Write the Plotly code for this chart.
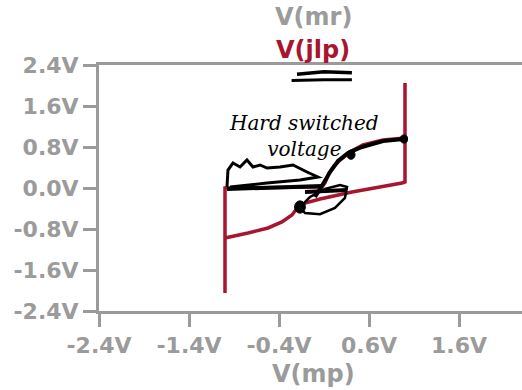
import plotly.graph_objects as go

# ---- data ----
# upper branch: flat near 0 V then rising
upper_x = [-1.0, -1.0, 0.078, 0.111, 0.156, 0.211, 0.278, 0.389, 0.533, 0.756, 1.0]
upper_y = [-2.05, 0.0, 0.02, 0.098, 0.293, 0.429, 0.546, 0.702, 0.839, 0.937, 0.976]
# right vertical jump
right_x = [1.0, 1.0]
right_y = [2.05, 0.117]
# lower branch (from right to left)
lower_x = [1.0, 0.967, 0.722, 0.411, 0.056, -0.111, -0.189, -0.256, -0.367, -0.522, -0.744, -1.0]
lower_y = [0.117, 0.098, 0.02, -0.078, -0.215, -0.293, -0.371, -0.527, -0.663, -0.780, -0.878, -0.976]

x_ticks = [-2.4, -1.4, -0.4, 0.6, 1.6]
x_tick_text = ["-2.4V", "-1.4V", "-0.4V", "0.6V", "1.6V"]
y_ticks = [-2.4, -1.6, -0.8, 0.0, 0.8, 1.6, 2.4]
y_tick_text = ["-2.4V", "-1.6V", "-0.8V", "0.0V", "0.8V", "1.6V", "2.4V"]

x_title = "V(mp)"
y_title_1 = "V(mr)"
y_title_2 = "V(jlp)"
note_text = "Hard switched<br>voltage"

GRAY = "#9b9b9b"
RED = "#a8152f"
INK = "#000000"

px = upper_x + right_x + lower_x
py = upper_y + right_y + lower_y

fig = go.Figure()
fig.add_trace(go.Scatter(x=px, y=py, mode="lines",
                         line=dict(color=RED, width=3.5),
                         hoverinfo="skip", showlegend=False))

# ---- hand-drawn ink annotations (decoration) ----
def path(pts, close=False):
    s = "M " + " L ".join(f"{a},{b}" for a, b in pts)
    return s + (" Z" if close else "")

ink = dict(color=INK, width=3)
shapes = []
# double underline under the title
shapes.append(dict(type="path", xref="x", yref="y",
                   path=path([(-0.2, 2.22), (0.1, 2.27), (0.41, 2.25)]), line=dict(color=INK, width=3.5)))
shapes.append(dict(type="path", xref="x", yref="y",
                   path=path([(-0.26, 2.10), (0.1, 2.11), (0.41, 2.11)]), line=ink))
# scribble over the flat part
shapes.append(dict(type="path", xref="x", yref="y",
                   path=path([(-0.978, 0.02), (-0.967, 0.351), (-0.911, 0.488), (-0.833, 0.41),
                              (-0.756, 0.546), (-0.689, 0.41), (-0.611, 0.449), (-0.533, 0.39),
                              (-0.389, 0.41), (-0.244, 0.449), (-0.089, 0.312), (0.033, 0.215),
                              (-0.167, 0.156), (-0.533, 0.098), (-0.944, 0.02)]), line=ink))
shapes.append(dict(type="path", xref="x", yref="y",
                   path=path([(-0.978, -0.02), (0.078, 0.04)]), line=dict(color=INK, width=4)))
# stroke tracing the rising branch
shapes.append(dict(type="path", xref="x", yref="y",
                   path=path([(0.0, -0.176), (0.089, 0.078), (0.167, 0.312), (0.256, 0.527),
                              (0.367, 0.683), (0.522, 0.8), (0.756, 0.917), (0.989, 0.956)]),
                   line=dict(color=INK, width=4)))
# ellipse around the crossing
shapes.append(dict(type="path", xref="x", yref="y",
                   path=path([(-0.167, -0.371), (-0.056, -0.176), (0.111, -0.02), (0.278, 0.06),
                              (0.356, 0.02), (0.333, -0.195), (0.222, -0.39), (0.056, -0.51),
                              (-0.111, -0.49)], close=True), line=dict(color=INK, width=2.5)))
shapes.append(dict(type="path", xref="x", yref="y",
                   path=path([(-0.111, -0.078), (0.356, -0.039)]), line=dict(color=INK, width=4)))
# dots
for cx, cy, r in [(0.989, 0.956, 0.04), (0.40, 0.65, 0.045), (-0.167, -0.371, 0.06)]:
    shapes.append(dict(type="circle", xref="x", yref="y",
                       x0=cx - r, x1=cx + r, y0=cy - r * 2.0, y1=cy + r * 2.0,
                       fillcolor=INK, line=dict(color=INK, width=1)))

fig.update_layout(
    width=522, height=390,
    margin=dict(l=99, r=0, t=65, b=79),
    paper_bgcolor="white", plot_bgcolor="white",
    showlegend=False,
    shapes=shapes,
    font=dict(family="DejaVu Sans", color=GRAY),
    xaxis=dict(range=[-2.4, 2.3], tickvals=x_ticks, ticktext=x_tick_text,
               showgrid=False, zeroline=False, showline=True, linecolor=GRAY, linewidth=3,
               mirror=True, ticks="outside", ticklen=13, tickwidth=3, tickcolor=GRAY,
               tickfont=dict(family="DejaVu Sans", size=22, color=GRAY, weight="bold")),
    yaxis=dict(range=[-2.4, 2.4], tickvals=y_ticks, ticktext=y_tick_text,
               showgrid=False, zeroline=False, showline=True, linecolor=GRAY, linewidth=3,
               ticks="outside", ticklen=13, tickwidth=3, tickcolor=GRAY,
               tickfont=dict(family="DejaVu Sans", size=22, color=GRAY, weight="bold")),
    annotations=[
        dict(text=f"<b>{y_title_1}</b>", x=313, y=390 - 17, xref="paper", yref="paper",
             showarrow=False, font=dict(size=24, color=GRAY), xanchor="center", yanchor="middle"),
        dict(text=f"<b>{y_title_2}</b>", x=313, y=390 - 50, xref="paper", yref="paper",
             showarrow=False, font=dict(size=24, color=RED), xanchor="center", yanchor="middle"),
        dict(text=f"<b>{x_title}</b>", x=313, y=390 - 374, xref="paper", yref="paper",
             showarrow=False, font=dict(size=24, color=GRAY), xanchor="center", yanchor="middle"),
        dict(text=note_text, x=-0.12, y=1.02, xref="x", yref="y", showarrow=False,
             font=dict(family="DejaVu Serif", size=20, color=INK, style="italic"),
             xanchor="center", yanchor="middle", align="center"),
    ],
)

# convert the pixel-positioned title annotations into paper coordinates
plot_w = 522 - 99 - 0
plot_h = 390 - 65 - 79
for a in fig.layout.annotations:
    if a.xref == "paper":
        a.x = (a.x - 99) / plot_w
        a.y = (a.y - 79) / plot_h

fig.write_html("out.html")
